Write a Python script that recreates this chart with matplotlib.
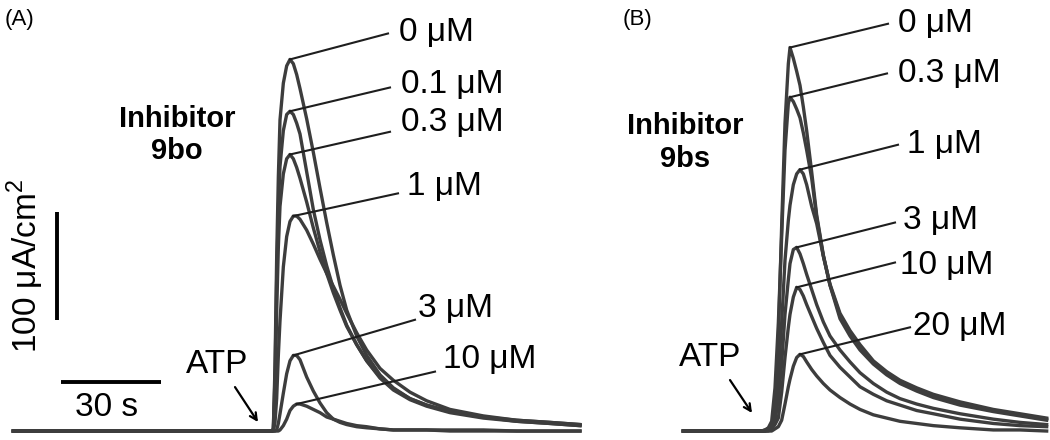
import matplotlib
matplotlib.use('Agg')
import matplotlib.pyplot as plt
import numpy as np

plt.rcParams['font.family'] = ['Liberation Sans', 'DejaVu Sans']
plt.rcParams['mathtext.fontset'] = 'custom'
plt.rcParams['mathtext.rm'] = 'Liberation Sans'

# panel A: inhibitor 9bo, time in s, current in uA/cm2
a_time = [4, 81.5, 82, 82.5, 83, 83.5, 84, 85, 86, 87, 88, 89, 90, 92, 94, 96, 98, 100, 102, 104,
          107, 110, 114, 118, 123, 128, 135, 145, 155, 165, 174]
a_0 = [0, 0, 2, 60, 160, 235, 288, 322, 338, 344, 340, 330, 317, 289, 258, 225, 193, 163, 135, 112,
       88, 70, 52, 40, 30, 24, 18, 13, 9, 7, 5]
a_01 = [0, 0, 2, 50, 140, 205, 245, 278, 293, 296, 293, 285, 275, 240, 205, 177, 153, 132, 114, 98,
        80, 65, 49, 38, 29, 23, 17, 12, 9, 7, 5]
a_03 = [0, 0, 1, 35, 110, 170, 208, 238, 252, 256, 252, 244, 234, 212, 188, 166, 146, 128, 112, 97,
        80, 65, 50, 39, 30, 24, 18, 13, 10, 8, 6]
a_1 = [0, 0, 0, 8, 30, 70, 102, 152, 180, 194, 199, 199, 196, 186, 173, 159, 146, 134, 122, 109,
       91, 75, 58, 47, 36, 28, 20, 14, 10, 8, 6]
a_3 = [0, 0, 0, 0, 1, 7, 16, 35, 53, 65, 70, 70, 66, 50, 37, 26, 17, 11, 8, 6,
       4, 3, 2, 1, 1, 1, 1, 1, 0, 0, 0]
a_10 = [0, 0, 0, 0, 0, 0, 1, 5, 11, 19, 23, 25, 25, 23, 20, 17, 13, 11, 9, 7,
        5, 4, 2, 1, 1, 1, 0, 0, 0, 0, 0]
a_labels = ['0 μM', '0.1 μM', '0.3 μM', '1 μM', '3 μM', '10 μM']

# panel B: inhibitor 9bs
b_time = [25, 47.5, 48.5, 49.5, 50.5, 51.5, 52.5, 53.5, 54.5, 55.5, 56.5, 57, 58, 59, 60, 61, 62,
          63.5, 65, 67, 69, 72, 75, 78, 82, 86, 90, 95, 100, 108, 118, 126, 134]
b_0 = [0, 0, 0, 1, 2, 5, 19, 85, 190, 285, 340, 355, 345, 333, 320, 300, 278,
       240, 200, 163, 135, 107, 91, 78, 64, 54, 46, 39, 33, 26, 19, 15, 11]
b_03 = [0, 0, 0, 1, 3, 9, 40, 100, 180, 260, 303, 309, 305, 298, 290, 276, 260,
        234, 198, 162, 135, 104, 88, 75, 62, 52, 44, 37, 31, 24, 18, 14, 10]
b_1 = [0, 0, 0, 0, 2, 6, 15, 50, 100, 158, 195, 209, 228, 238, 242, 238, 228,
       208, 192, 162, 136, 109, 93, 80, 65, 55, 47, 40, 34, 27, 20, 16, 12]
b_3 = [0, 0, 0, 0, 1, 4, 9, 30, 62, 108, 140, 155, 168, 170, 164, 155, 145,
       131, 117, 101, 88, 75, 64, 54, 44, 36, 30, 25, 21, 16, 11, 8, 6]
b_10 = [0, 0, 0, 0, 0, 2, 6, 12, 36, 68, 96, 108, 124, 133, 131, 125, 117,
        106, 95, 82, 70, 59, 50, 41, 34, 28, 24, 19, 16, 11, 7, 5, 4]
b_20 = [0, 0, 0, 0, 0, 0, 2, 4, 10, 25, 41, 48, 60, 68, 71, 69, 64,
        57, 51, 44, 38, 31, 25, 20, 15, 12, 9, 7, 5, 3, 1, 1, 0]
b_labels = ['0 μM', '0.3 μM', '1 μM', '3 μM', '10 μM', '20 μM']

# where the leader lines end and the labels sit (s, uA/cm2)
a_line_end = [(116.4, 368), (117, 318), (117, 277), (119.4, 220), (124.5, 103), (130.5, 55)]
a_text_pos = [(119.7, 369), (120.3, 321), (120.3, 286), (122.1, 226), (125.4, 113), (132.9, 66)]
b_line_end = [(86.4, 377), (86.1, 331), (89.4, 265), (88.5, 193), (88.5, 156), (93, 96)]
b_text_pos = [(89.4, 377), (89.4, 331), (92.1, 265), (90.9, 195), (90, 153), (93.9, 97)]

TRACE_COLOR = '#3d3d3d'
LABEL_SIZE = 24


def draw_panel(ax, time, traces, labels, line_end, text_pos):
    for cur in traces:
        ax.plot(time, cur, color=TRACE_COLOR, lw=2.4, solid_joinstyle='round')
    for cur, lab, end, pos in zip(traces, labels, line_end, text_pos):
        k = int(np.argmax(cur))
        ax.plot([time[k], end[0]], [cur[k], end[1]], color='#1e1e1e', lw=1.5)
        ax.text(pos[0], pos[1], lab, fontsize=LABEL_SIZE, ha='left', va='center')


fig = plt.figure(figsize=(10.5, 4.4), dpi=100)
ax_a = fig.add_axes([0, 0, 600 / 1050, 1])
ax_b = fig.add_axes([600 / 1050, 0, 450 / 1050, 1])
for ax, width in [(ax_a, 180), (ax_b, 135)]:
    ax.set_xlim(0, width)
    ax.set_ylim(-8.3, 399)
    ax.axis('off')

draw_panel(ax_a, a_time, [a_0, a_01, a_03, a_1, a_3, a_10], a_labels, a_line_end, a_text_pos)
draw_panel(ax_b, b_time, [b_0, b_03, b_1, b_3, b_10, b_20], b_labels, b_line_end, b_text_pos)

# scale bars: 100 uA/cm2 and 30 s
ax_a.plot([17.1, 17.1], [103, 203], color='black', lw=2.8, solid_capstyle='butt')
ax_a.plot([18.3, 48.3], [45.4, 45.4], color='black', lw=2.8, solid_capstyle='butt')
ax_a.text(32.1, 22, '30 s', fontsize=LABEL_SIZE, ha='center', va='center')
ax_a.text(7.5, 153, '100 μA/cm$^2$', fontsize=LABEL_SIZE, ha='center', va='center', rotation=90)

ax_a.text(53.1, 274, 'Inhibitor\n9bo', fontsize=21, fontweight='bold', ha='center', va='center',
          linespacing=1.2)
ax_b.text(25.5, 267, 'Inhibitor\n9bs', fontsize=21, fontweight='bold', ha='center', va='center',
          linespacing=1.2)

# ATP arrows
arrow = dict(arrowstyle='->,head_length=0.5,head_width=0.25', color='black', lw=1.6,
             shrinkA=0, shrinkB=0)
ax_a.annotate('', xy=(77.4, 8.3), xytext=(70.5, 40.7), arrowprops=arrow)
ax_a.text(65, 62, 'ATP', fontsize=LABEL_SIZE, ha='center', va='center')
ax_b.annotate('', xy=(45.6, 16.7), xytext=(39, 47.2), arrowprops=arrow)
ax_b.text(33, 68, 'ATP', fontsize=LABEL_SIZE, ha='center', va='center')

fig.text(5 / 1050, 1 - 20 / 440, '(A)', fontsize=16, ha='left', va='center')
fig.text(623 / 1050, 1 - 20 / 440, '(B)', fontsize=16, ha='left', va='center')

fig.savefig('out.png', dpi=100)
